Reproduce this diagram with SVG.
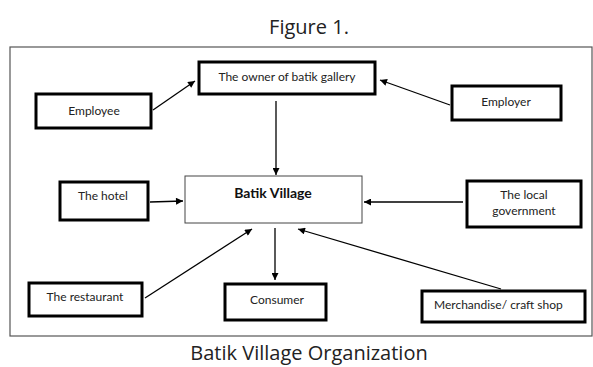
<svg xmlns="http://www.w3.org/2000/svg" width="593" height="367" viewBox="0 0 593 367">
<style>
.t{font-family:Lato,"Open Sans",sans-serif;font-size:12px;fill:#222;text-anchor:middle}
.box{fill:#fff;stroke:#000;stroke-width:3}
.cap{font-family:"Open Sans","Noto Sans",sans-serif;font-size:20px;fill:#222;text-anchor:middle}
.c{stroke:#000;stroke-width:1.3;fill:none;marker-end:url(#ah)}
</style>
<defs>
<marker id="ah" viewBox="0 0 10 10" refX="10" refY="5" markerWidth="8" markerHeight="7" markerUnits="userSpaceOnUse" orient="auto">
<path d="M0,0 L10,5 L0,10 z" fill="#000"/>
</marker>
</defs>
<rect width="593" height="367" fill="#fff"/>
<text class="cap" x="309" y="34">Figure 1.</text>
<rect x="10" y="47" width="582" height="289" fill="none" stroke="#555" stroke-width="1.2"/>
<g id="connectors">
<line class="c" x1="153" y1="110" x2="195" y2="81"/>
<line class="c" x1="450" y1="105" x2="380" y2="80"/>
<line class="c" x1="276" y1="101" x2="276" y2="175"/>
<line class="c" x1="150" y1="202" x2="183" y2="201"/>
<line class="c" x1="463" y1="202" x2="364" y2="202"/>
<line class="c" x1="145" y1="298" x2="252" y2="229"/>
<line class="c" x1="275" y1="228" x2="275" y2="280"/>
<line class="c" x1="501" y1="289" x2="298" y2="229"/>
</g>
<g id="owner"><rect class="box" x="199" y="62" width="176" height="32"/><text class="t" x="287" y="81">The owner of batik gallery</text></g>
<g id="employee"><rect class="box" x="36" y="94" width="115" height="34"/><text class="t" x="94" y="115">Employee</text></g>
<g id="employer"><rect class="box" x="452" y="86" width="109" height="34"/><text class="t" x="506" y="106">Employer</text></g>
<g id="batik-village"><rect x="185" y="176" width="177" height="47" fill="#fff" stroke="#444" stroke-width="1"/><text class="t" x="273" y="198" style="font-weight:bold;font-size:14px;fill:#111">Batik Village</text></g>
<g id="hotel"><rect class="box" x="60" y="182" width="88" height="38"/><text class="t" x="103" y="200">The hotel</text></g>
<g id="local-government"><rect class="box" x="467" y="181" width="114" height="46"/><text class="t" x="524" y="199">The local</text><text class="t" x="524" y="215">government</text></g>
<g id="restaurant"><rect class="box" x="29" y="283" width="113" height="33"/><text class="t" x="85" y="301">The restaurant</text></g>
<g id="consumer"><rect class="box" x="225" y="284" width="101" height="36"/><text class="t" x="277" y="304">Consumer</text></g>
<g id="merchandise"><rect class="box" x="422" y="291" width="163" height="31"/><text class="t" x="434" y="309" style="text-anchor:start">Merchandise/ craft shop</text></g>
<text class="cap" x="309" y="360">Batik Village Organization</text>
</svg>
